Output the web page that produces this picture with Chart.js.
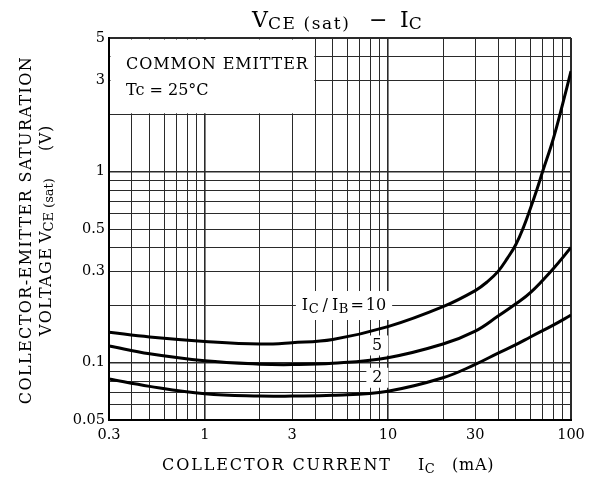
<!DOCTYPE html>
<html>
<head>
<meta charset="utf-8">
<script src="https://cdn.jsdelivr.net/npm/chart.js@4.4.1/dist/chart.umd.min.js"></script>
<style>
  html, body { margin: 0; padding: 0; background: #fff; }
  #wrap { width: 596px; height: 488px; position: relative; }
</style>
</head>
<body>
<div id="wrap"><canvas id="vce"></canvas></div>
<script>
// VCE(sat) - IC curves, common emitter, Tc = 25C
const currentA = [0.3, 0.5, 1, 2, 3, 5, 10, 20, 30, 35, 40, 45, 50, 55, 60, 65, 70, 80, 90, 100];
const vceRatio10 = [0.144, 0.136, 0.129, 0.125, 0.127, 0.132, 0.154, 0.196, 0.238, 0.265, 0.300, 0.352, 0.415, 0.51, 0.64, 0.80, 1.00, 1.48, 2.25, 3.35];

const currentB = [0.3, 0.5, 1, 2, 3, 5, 10, 20, 30, 40, 50, 60, 80, 100];
const vceRatio5 = [0.122, 0.111, 0.102, 0.098, 0.0975, 0.099, 0.106, 0.125, 0.146, 0.175, 0.203, 0.232, 0.31, 0.40];
const vceRatio2 = [0.082, 0.075, 0.0686, 0.0667, 0.0667, 0.0673, 0.0708, 0.0832, 0.0977, 0.112, 0.124, 0.136, 0.157, 0.177];

const xGrid = [0.3, 0.4, 0.5, 0.6, 0.7, 0.8, 0.9, 1, 2, 3, 4, 5, 6, 7, 8, 9, 10, 20, 30, 40, 50, 60, 70, 80, 90, 100];
const yGrid = [0.05, 0.06, 0.07, 0.08, 0.09, 0.1, 0.2, 0.3, 0.4, 0.5, 0.6, 0.7, 0.8, 0.9, 1, 2, 3, 4, 5];
const xTickLabels = [0.3, 1, 3, 10, 30, 100];
const yTickLabels = [0.05, 0.1, 0.3, 0.5, 1, 3, 5];

const serif = '"DejaVu Serif", "Liberation Serif", serif';

function pts(xs, ys) { return xs.map((x, i) => ({ x, y: ys[i] })); }

// draw text pieces left to right (for subscripts); returns end x
function drawRuns(ctx, x, y, parts) {
  for (const p of parts) {
    ctx.font = p.s + 'px ' + serif;
    ctx.letterSpacing = (p.ls || 0) + 'px';
    ctx.fillText(p.t, x, y + (p.dy || 0));
    x += ctx.measureText(p.t).width + (p.gap || 0);
  }
  ctx.letterSpacing = '0px';
  return x;
}
function runsWidth(ctx, parts) {
  let w = 0;
  for (const p of parts) {
    ctx.font = p.s + 'px ' + serif;
    ctx.letterSpacing = (p.ls || 0) + 'px';
    w += ctx.measureText(p.t).width + (p.gap || 0);
  }
  ctx.letterSpacing = '0px';
  return w;
}

function edgeOrDecade(v, edges, decades) {
  if (edges.includes(v)) return 2;
  if (decades.includes(v)) return 1.6;
  return 1;
}

const decor = {
  id: 'decor',
  beforeDatasetsDraw(chart) {
    const { ctx, chartArea: a, scales: { x, y } } = chart;
    ctx.save();
    ctx.fillStyle = '#fff';
    // conditions box in the top-left corner
    const bx = x.getPixelForValue(4), by = y.getPixelForValue(2);
    ctx.fillRect(a.left + 1.5, a.top + 1.5, bx - a.left - 2.2, by - a.top - 2.2);
    ctx.fillStyle = '#000';
    ctx.textBaseline = 'alphabetic';
    ctx.textAlign = 'left';
    drawRuns(ctx, 126, 69, [{ t: 'COMMON EMITTER', s: 16, ls: 0.9 }]);
    drawRuns(ctx, 126, 95, [{ t: 'Tc = 25°C', s: 16 }]);

    // curve labels
    ctx.textBaseline = 'middle';
    const l10 = [
      { t: 'I', s: 16, gap: 0.5 }, { t: 'C', s: 13, dy: 4, gap: 4 },
      { t: '/', s: 16, gap: 4 }, { t: 'I', s: 16, gap: 0.5 }, { t: 'B', s: 13, dy: 4, gap: 2 },
      { t: '=', s: 16, gap: 2 }, { t: '10', s: 16 }
    ];
    const lx = x.getPixelForValue(3.39), ly = y.getPixelForValue(0.2) + 1;
    const w10 = runsWidth(ctx, l10);
    ctx.fillStyle = '#fff';
    ctx.fillRect(lx - 6, ly - 15, w10 + 12, 29);
    ctx.fillStyle = '#000';
    drawRuns(ctx, lx, ly, l10);

    ctx.textAlign = 'center';
    ctx.font = '16px ' + serif;
    for (const [t, xv, yv] of [['5', 8.74, 0.1228], ['2', 8.76, 0.0832]]) {
      const px = x.getPixelForValue(xv), py = y.getPixelForValue(yv);
      ctx.fillStyle = '#fff';
      ctx.fillRect(px - 11, py - 10, 22, 20);
      ctx.fillStyle = '#000';
      ctx.fillText(t, px, py);
    }
    ctx.restore();
  },
  afterDraw(chart) {
    const { ctx } = chart;
    ctx.save();
    ctx.fillStyle = '#000';
    ctx.textAlign = 'left';
    ctx.textBaseline = 'alphabetic';
    // title
    drawRuns(ctx, 252, 27, [
      { t: 'V', s: 22, gap: 0 }, { t: 'CE (sat)', s: 17, dy: 1.5, ls: 1.6 }
    ]);
    drawRuns(ctx, 369, 27, [{ t: '\u2212', s: 22 }]);
    drawRuns(ctx, 400, 27, [{ t: 'I', s: 22, gap: 0 }, { t: 'C', s: 17, dy: 1.5 }]);

    // x axis title
    ctx.textBaseline = 'middle';
    drawRuns(ctx, 162, 466, [{ t: 'COLLECTOR CURRENT', s: 16, ls: 1.9 }]);
    drawRuns(ctx, 418, 466, [{ t: 'I', s: 16, gap: 0.5 }, { t: 'C', s: 13, dy: 3.5 }]);
    drawRuns(ctx, 452, 466, [{ t: '(mA)', s: 16, ls: 0.8 }]);

    // y axis title (rotated)
    ctx.save();
    ctx.translate(27, 0);
    ctx.rotate(-Math.PI / 2);
    ctx.textAlign = 'center';
    ctx.font = '16px ' + serif;
    ctx.letterSpacing = '1.4px';
    ctx.fillText('COLLECTOR-EMITTER SATURATION', -230, 0);
    ctx.letterSpacing = '0px';
    ctx.restore();

    ctx.save();
    ctx.translate(47, 0);
    ctx.rotate(-Math.PI / 2);
    ctx.textAlign = 'left';
    drawRuns(ctx, -336, 0, [{ t: 'VOLTAGE', s: 16, ls: 1.4 }]);
    drawRuns(ctx, -243, 0, [{ t: 'V', s: 16, gap: 0 }, { t: 'CE (sat)', s: 13, dy: 3 }]);
    drawRuns(ctx, -151, 0, [{ t: '(V)', s: 16, ls: 0.6 }]);
    ctx.restore();

    ctx.restore();
  }
};

const lineStyle = {
  borderColor: '#000',
  borderWidth: 3,
  pointRadius: 0,
  fill: false,
  tension: 0.4
};

new Chart(document.getElementById('vce'), {
  type: 'line',
  data: {
    datasets: [
      { label: 'IC/IB=10', data: pts(currentA, vceRatio10), ...lineStyle },
      { label: 'IC/IB=5', data: pts(currentB, vceRatio5), ...lineStyle },
      { label: 'IC/IB=2', data: pts(currentB, vceRatio2), ...lineStyle }
    ]
  },
  options: {
    responsive: true,
    maintainAspectRatio: false,
    animation: false,
    layout: { padding: { left: 0, right: 25, top: 38, bottom: 0 } },
    plugins: { legend: { display: false }, tooltip: { enabled: false } },
    scales: {
      x: {
        type: 'logarithmic',
        min: 0.3,
        max: 100,
        afterFit: s => { s.height = 68; },
        afterBuildTicks: s => { s.ticks = xGrid.map(v => ({ value: v })); },
        ticks: {
          autoSkip: false,
          maxRotation: 0,
          padding: 7,
          color: '#000',
          font: { family: serif, size: 14.5 },
          callback: v => xTickLabels.includes(v) ? String(v) : ''
        },
        grid: {
          drawTicks: false,
          color: '#2a2a2a',
          lineWidth: c => edgeOrDecade(c.tick ? c.tick.value : 0, [0.3, 100], [1, 10])
        },
        border: { color: '#000', width: 2 }
      },
      y: {
        type: 'logarithmic',
        min: 0.05,
        max: 5,
        afterFit: s => { s.width = 109; },
        afterBuildTicks: s => { s.ticks = yGrid.map(v => ({ value: v })); },
        ticks: {
          autoSkip: false,
          padding: 4,
          color: '#000',
          font: { family: serif, size: 14.5 },
          callback: v => yTickLabels.includes(v) ? String(v) : ''
        },
        grid: {
          drawTicks: false,
          color: '#2a2a2a',
          lineWidth: c => edgeOrDecade(c.tick ? c.tick.value : 0, [0.05, 5], [0.1, 1])
        },
        border: { color: '#000', width: 2 }
      }
    }
  },
  plugins: [decor]
});
</script>
</body>
</html>
